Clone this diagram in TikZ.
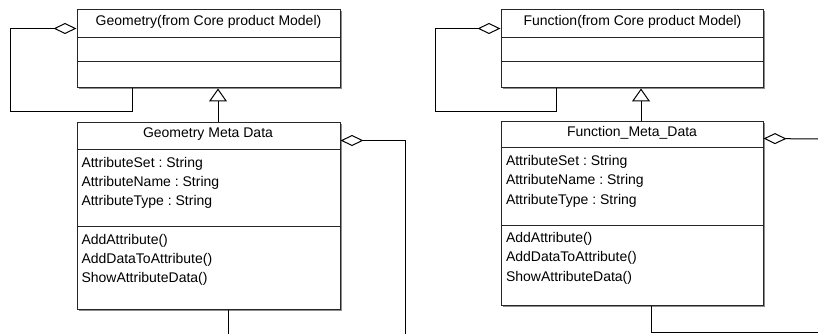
\documentclass[tikz,border=0pt]{standalone}
\usepackage{fontspec}
\setmainfont{Liberation Sans}
\usetikzlibrary{arrows.meta,shadows}
\frenchspacing
\begin{document}
\begin{tikzpicture}[x=1pt,y=-1pt,line width=1pt,
  box/.style={draw=black!85,fill=white,rectangle,inner sep=0pt,line width=1pt,
    general shadow={fill=black!45,shadow xshift=1.5pt,shadow yshift=-1.5pt}},
  txt/.style={anchor=base west,inner sep=0pt,font=\fontsize{14}{16}\selectfont},
  ttl/.style={anchor=base,inner sep=0pt,font=\fontsize{14}{16}\selectfont},
  agg/.style={{Diamond[open,length=23pt,width=11pt]}-},
  inh/.style={-{Triangle[open,length=13pt,width=18pt]}},
  wire/.style={draw=black,line width=1pt}]
\useasboundingbox (0,0) rectangle (818,334);
% boxes
\node[box,minimum width=263pt,minimum height=78pt] (geo) at (208.5,49) {};
\node[box,minimum width=263pt,minimum height=187pt] (gmeta) at (208.5,215.5) {};
\node[box,minimum width=262pt,minimum height=78pt] (func) at (632,49) {};
\node[box,minimum width=262pt,minimum height=184pt] (fmeta) at (632,213) {};
% dividers
\draw[wire,draw=black!85] ([yshift=-28pt]geo.north west) -- ([yshift=-28pt]geo.north east);
\draw[wire,draw=black!85] ([yshift=-52pt]geo.north west) -- ([yshift=-52pt]geo.north east);
\draw[wire,draw=black!85] ([yshift=-28pt]gmeta.north west) -- ([yshift=-28pt]gmeta.north east);
\draw[wire,draw=black!85] ([yshift=-105pt]gmeta.north west) -- ([yshift=-105pt]gmeta.north east);
\draw[wire,draw=black!85] ([yshift=-28pt]func.north west) -- ([yshift=-28pt]func.north east);
\draw[wire,draw=black!85] ([yshift=-52pt]func.north west) -- ([yshift=-52pt]func.north east);
\draw[wire,draw=black!85] ([yshift=-27pt]fmeta.north west) -- ([yshift=-27pt]fmeta.north east);
\draw[wire,draw=black!85] ([yshift=-105pt]fmeta.north west) -- ([yshift=-105pt]fmeta.north east);
% texts
\node[ttl] (geot) at (208.5,26) {Geometry(from Core product Model)};
\node[ttl] (funct) at (632.5,26) {Function(from Core product Model)};
\node[ttl] (gmetat) at (208,137) {Geometry Meta Data};
\node[ttl] (fmetat) at (632,136) {Function\_Meta\_Data};
\node[txt] (ga1) at (81,167) {AttributeSet : String};
\node[txt] (ga2) at (81,186.3) {AttributeName : String};
\node[txt] (ga3) at (81,205.6) {AttributeType : String};
\node[txt] (gm1) at (81,244) {AddAttribute()};
\node[txt] (gm2) at (81,263.3) {AddDataToAttribute()};
\node[txt] (gm3) at (81,282.6) {ShowAttributeData()};
\node[txt] (fa1) at (505.5,165.5) {AttributeSet : String};
\node[txt] (fa2) at (505.5,184.8) {AttributeName : String};
\node[txt] (fa3) at (505.5,204.1) {AttributeType : String};
\node[txt] (fm1) at (505.5,242.5) {AddAttribute()};
\node[txt] (fm2) at (505.5,261.8) {AddDataToAttribute()};
\node[txt] (fm3) at (505.5,281.1) {ShowAttributeData()};
% free ends
\coordinate (gend) at (405,334);
\coordinate (gend2) at (228,334);
\coordinate (fend) at (818,139);
\coordinate (fend2) at (818,332);
% self aggregations
\draw[wire,agg] ([yshift=-19pt]geo.north west) -- ++(-66,0) -- ++(0,83) -| ([xshift=56pt]geo.south west);
\draw[wire,agg] ([yshift=-19pt]func.north west) -- ++(-65,0) -- ++(0,83) -| ([xshift=56pt]func.south west);
% inheritance
\draw[wire,inh] ([xshift=9.5pt]gmeta.north) -- ([xshift=9.5pt]geo.south);
\draw[wire,inh] ([xshift=9pt]fmeta.north) -- ([xshift=9pt]func.south);
% outgoing
\draw[wire,agg] ([yshift=-19pt]gmeta.north east) -| (gend);
\draw[wire] ([xshift=19.5pt]gmeta.south) -- (gend2);
\draw[wire,agg] ([yshift=-18pt]fmeta.north east) -- (fend);
\draw[wire] ([xshift=19pt]fmeta.south) |- (fend2);
\end{tikzpicture}
\end{document}
